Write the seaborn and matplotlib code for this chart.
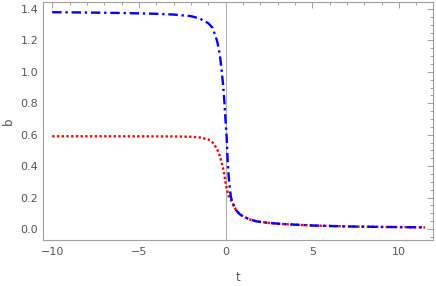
import numpy as np
import pandas as pd
import matplotlib
matplotlib.use("Agg")
import matplotlib.pyplot as plt
import seaborn as sns
from matplotlib.ticker import MultipleLocator

# values
t_blue = [-10, -8, -6, -4, -3, -2, -1.5, -1, -0.75, -0.5, -0.35, -0.25, -0.15,
          -0.08, 0, 0.06, 0.12, 0.2, 0.3, 0.4, 0.6, 0.8, 1.0, 1.4, 1.8, 2.5,
          3.5, 5, 7, 9, 11.5]
b_blue = [1.38, 1.378, 1.375, 1.37, 1.365, 1.355, 1.34, 1.31, 1.28, 1.20, 1.12,
          1.03, 0.92, 0.82, 0.68, 0.58, 0.42, 0.30, 0.205, 0.165, 0.12, 0.095,
          0.08, 0.06, 0.048, 0.038, 0.03, 0.022, 0.016, 0.013, 0.01]

t_red = [-10, -6, -3, -2, -1.5, -1, -0.75, -0.5, -0.35, -0.2, -0.1, 0, 0.1, 0.2,
         0.3, 0.4, 0.6, 0.8, 1.0, 1.4, 1.8, 2.5, 3.5, 5, 7, 9, 11.5]
b_red = [0.59, 0.59, 0.589, 0.587, 0.583, 0.57, 0.55, 0.51, 0.47, 0.41, 0.36,
         0.29, 0.24, 0.2, 0.185, 0.165, 0.12, 0.095, 0.08, 0.06, 0.048, 0.038,
         0.03, 0.022, 0.016, 0.013, 0.01]

red_df = pd.DataFrame({'t': t_red, 'b': b_red})
blue_df = pd.DataFrame({'t': t_blue, 'b': b_blue})

sns.set_style("white")
plt.rcParams['font.family'] = ['DejaVu Sans']

fig = plt.figure(figsize=(4.36, 2.86), dpi=100)
ax = fig.add_axes([0.099, 0.161, 0.894, 0.832])

frame_col = '#a0a0a0'
text_col = '#555555'

ax.axvline(0, color='#b0b0b0', lw=0.8, zorder=1)

sns.lineplot(data=red_df, x='t', y='b', ax=ax, color=(1, 0, 0), lw=1.7,
             sort=False, estimator=None, zorder=3)
ax.lines[-1].set_dashes((1.0, 1.0))
sns.lineplot(data=blue_df, x='t', y='b', ax=ax, color=(0, 0, 1), lw=1.7,
             sort=False, estimator=None, zorder=4)
ax.lines[-1].set_dashes((4.0, 1.6, 1.0, 1.6))

ax.set_xlim(-10.52, 11.95)
ax.set_ylim(-0.07, 1.445)

ax.xaxis.set_major_locator(MultipleLocator(5))
ax.xaxis.set_minor_locator(MultipleLocator(1))
ax.yaxis.set_major_locator(MultipleLocator(0.2))
ax.yaxis.set_minor_locator(MultipleLocator(0.05))
ax.yaxis.set_major_formatter(matplotlib.ticker.FormatStrFormatter('%.1f'))

for s in ax.spines.values():
    s.set_color(frame_col)
    s.set_linewidth(0.8)

ax.tick_params(which='both', direction='in', top=True, right=True,
               color=frame_col, width=0.7, labelsize=8, labelcolor=text_col)
ax.tick_params(which='major', length=4)
ax.tick_params(which='minor', length=2)
ax.tick_params(axis='x', pad=5)

ax.set_xlabel('t', fontsize=8.5, color=text_col, labelpad=10)
ax.set_ylabel('b', fontsize=8.5, color=text_col, labelpad=4)

fig.savefig('out.png', dpi=100)
